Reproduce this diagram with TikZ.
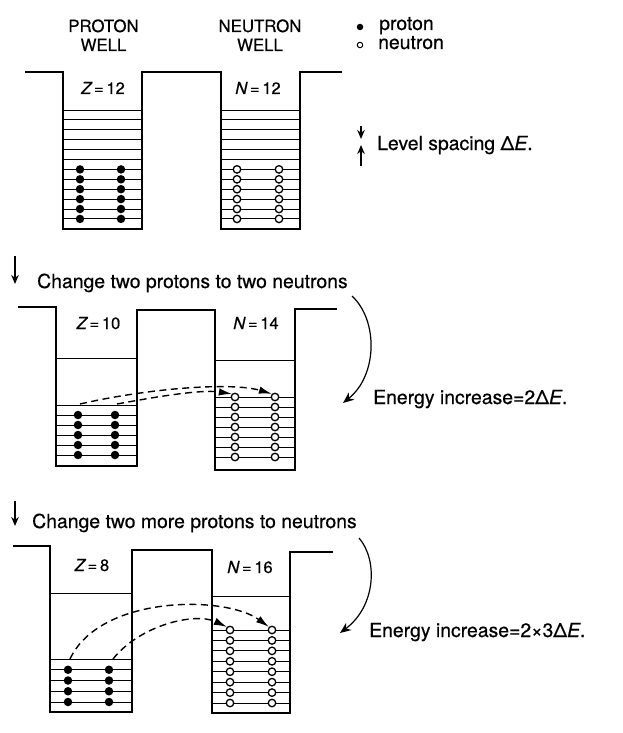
\documentclass[tikz,border=0pt]{standalone}
\usepackage{fontspec}
\setmainfont{TeX Gyre Heros}[FakeBold=0.5]
\usetikzlibrary{arrows.meta}
\begin{document}
\begin{tikzpicture}[x=1pt,y=-1pt,
  wall/.style={line width=2pt,line join=miter},
  lvl/.style={line width=0.9pt},
  pdot/.style={circle,fill=black,inner sep=0pt,minimum size=8.5pt},
  ndot/.style={circle,draw=black,fill=white,line width=1.3pt,inner sep=0pt,minimum size=7.5pt},
  mtext/.style={font=\fontsize{19.4}{22}\selectfont,inner sep=0pt},
  head/.style={font=\fontsize{16.8}{18}\selectfont,inner sep=0pt},
  wlab/.style={font=\fontsize{16.5}{18}\selectfont,inner sep=0pt},
  trans/.style={line width=1.4pt,dash pattern=on 7pt off 4.5pt,-{Latex[length=13pt,width=7.5pt]}},
  bigarr/.style={line width=1.2pt,-{Stealth[length=11pt,width=9pt]}},
  smallarr/.style={line width=1.3pt,-{Stealth[length=9pt,width=7.5pt]}},
]
\useasboundingbox[fill=white] (0,0) rectangle (623,733);

% ---------- headings and legend ----------
\node[head,anchor=base] (hp1) at (103.5,32) {PROTON};
\node[head,anchor=base] (hp2) at (103.5,51) {WELL};
\node[head,anchor=base] (hn1) at (260,32) {NEUTRON};
\node[head,anchor=base] (hn2) at (260,51) {WELL};
\node[circle,fill=black,inner sep=0pt,minimum size=6.5pt] (lgp) at (360,27) {};
\node[circle,draw=black,line width=1pt,inner sep=0pt,minimum size=5.5pt] (lgn) at (360,45) {};
\node[mtext,anchor=base west] (lgpt) at (379,30) {proton};
\node[mtext,anchor=base west] (lgnt) at (378,49) {neutron};

% ---------- top panel ----------
\draw[wall] (25,72) -- (63,72) -- (63,229) -- (142,229) -- (142,72) -- (221,72)
  -- (221,229) -- (300,229) -- (300,72) -- (342,72);
\foreach \k in {0,...,11}{
  \draw[lvl] (63,{110+9.9*\k}) -- (142,{110+9.9*\k});
  \draw[lvl] (221,{110+9.9*\k}) -- (300,{110+9.9*\k});
}
\foreach \k in {6,...,11}{
  \node[pdot] (tpa\k) at (80,{110+9.9*\k}) {};
  \node[pdot] (tpb\k) at (121,{110+9.9*\k}) {};
  \node[ndot] (tna\k) at (237,{110+9.9*\k}) {};
  \node[ndot] (tnb\k) at (279,{110+9.9*\k}) {};
}
\node[wlab,anchor=base] (tz) at (103,94) {{\itshape Z}\,=\,12};
\node[wlab,anchor=base] (tn) at (258,94) {{\itshape N}\,=\,12};
\node[mtext,anchor=base west] (lsp) at (377,150) {Level spacing Δ{\itshape E}.};
\coordinate (la1) at (361,126);
\coordinate (la2) at (361,139);
\coordinate (lb1) at (361,166);
\coordinate (lb2) at (361,145);
\draw[smallarr] (la1) -- (la2);
\draw[smallarr] (lb1) -- (lb2);

% ---------- step 1 ----------
\coordinate (s1a) at (15,256);
\coordinate (s1b) at (15,284);
\draw[smallarr] (s1a) -- (s1b);
\node[mtext,anchor=base west] (s1t) at (37,288) {Change two protons to two neutrons};

% ---------- middle panel ----------
\draw[wall] (18,307) -- (56,307) -- (56,466) -- (137,466) -- (137,310) -- (215,310)
  -- (215,470) -- (295,470) -- (295,309) -- (337,309);
\draw[lvl] (56,358) -- (137,358);
\draw[lvl] (215,360) -- (295,360);
\foreach \k in {0,...,5}{
  \draw[lvl] (56,{405+10*\k}) -- (137,{405+10*\k});
}
\foreach \k in {1,...,5}{
  \node[pdot] (mpa\k) at (78,{405+10*\k}) {};
  \node[pdot] (mpb\k) at (115,{405+10*\k}) {};
}
\foreach \k in {0,...,6}{
  \draw[lvl] (215,{397+10*\k}) -- (295,{397+10*\k});
}
\foreach \k in {0,...,6}{
  \node[ndot] (mna\k) at (235,{397+10*\k}) {};
  \node[ndot] (mnb\k) at (275,{397+10*\k}) {};
}
\node[wlab,anchor=base] (mz) at (98.5,329) {{\itshape Z}\,=\,10};
\node[wlab,anchor=base] (mn) at (256,329) {{\itshape N}\,=\,14};
\coordinate (mU) at (80,404);
\coordinate (mL) at (117,404);
\draw[trans] (mU) .. controls (150,388) and (232,382) .. (mnb0.north west);
\draw[trans] (mL) .. controls (150,398) and (200,389) .. (mna0.north west);
\coordinate (e1a) at (352,296);
\coordinate (e1b) at (343,403);
\draw[bigarr] (e1a) .. controls (378,320) and (378,375) .. (e1b);
\node[mtext,anchor=base west] (e1t) at (373,404) {Energy increase=2Δ{\itshape E}.};

% ---------- step 2 ----------
\coordinate (s2a) at (15,501);
\coordinate (s2b) at (15,526);
\draw[smallarr] (s2a) -- (s2b);
\node[mtext,anchor=base west] (s2t) at (32,528) {Change two more protons to neutrons};

% ---------- bottom panel ----------
\draw[wall] (13,546) -- (50,546) -- (50,712) -- (132,712) -- (132,550) -- (212,550)
  -- (212,713) -- (290,713) -- (290,552) -- (333,552);
\draw[lvl] (50,593) -- (132,593);
\draw[lvl] (212,596) -- (290,596);
\foreach \k in {0,...,4}{
  \draw[lvl] (50,{659+10.75*\k}) -- (132,{659+10.75*\k});
}
\foreach \k in {1,...,4}{
  \node[pdot] (bpa\k) at (68,{659+10.75*\k}) {};
  \node[pdot] (bpb\k) at (109,{659+10.75*\k}) {};
}
\foreach \k in {0,...,7}{
  \draw[lvl] (212,{630+10.43*\k}) -- (290,{630+10.43*\k});
  \node[ndot] (bna\k) at (230,{630+10.43*\k}) {};
  \node[ndot] (bnb\k) at (272,{630+10.43*\k}) {};
}
\node[wlab,anchor=base] (bz) at (92,571) {{\itshape Z}\,=\,8};
\node[wlab,anchor=base] (bn) at (250,573) {{\itshape N}\,=\,16};
\coordinate (bU) at (70,659);
\coordinate (bL) at (113,659);
\draw[trans] (bU) .. controls (100,595) and (225,595) .. (bnb0.north west);
\draw[trans] (bL) .. controls (140,625) and (195,612) .. (bna0.north west);
\coordinate (e2a) at (359,538);
\coordinate (e2b) at (340,633);
\draw[bigarr] (e2a) .. controls (378,560) and (376,606) .. (e2b);
\node[mtext,anchor=base west] (e2t) at (369,637) {Energy increase=2×3Δ{\itshape E}.};
\end{tikzpicture}
\end{document}
